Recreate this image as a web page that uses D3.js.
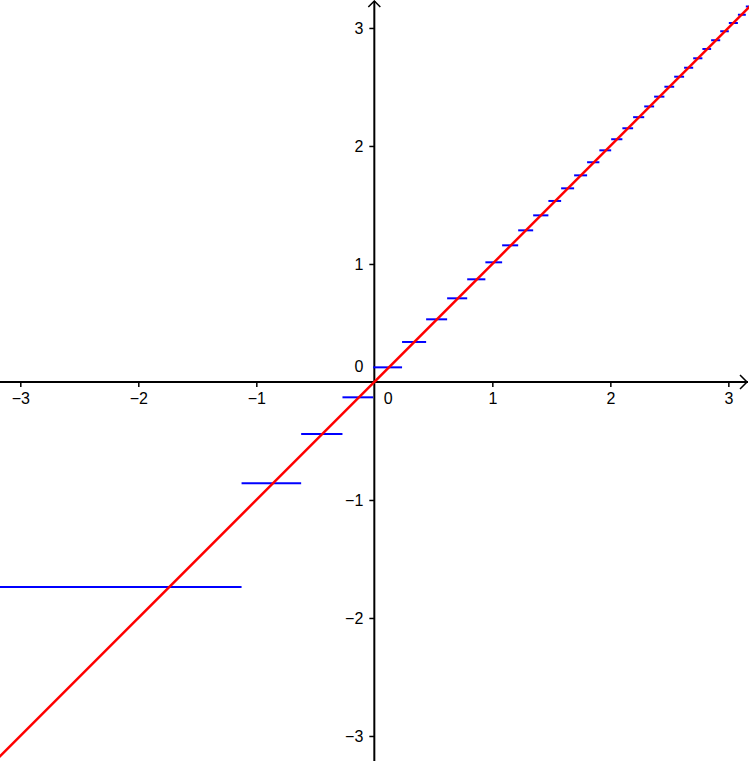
<!DOCTYPE html>
<html lang="en">
<head>
    <meta charset="UTF-8">
    <title>Document</title>
    <style>
        body {
            margin: 0;
            background: #fff;
        }
        svg {
            display: block;
        }
        .tick text {
            font-family: "Liberation Sans", Arial, sans-serif;
            font-size: 16px;
            fill: #000;
        }
        .zero {
            font-family: "Liberation Sans", Arial, sans-serif;
            font-size: 16px;
        }
    </style>
</head>
<body>
<script src="https://d3js.org/d3.v7.min.js"></script>
<script>
    let width = 749
    let height = 761

    // tick labels
    let xTicks = [-3, -2, -1, 1, 2, 3]
    let yTicks = [-3, -2, -1, 1, 2, 3]

    // red line y = x, sampled at its two ends
    let lineX = [-3.3, 3.3]
    let lineY = [-3.3, 3.3]

    // blue steps: step i runs from stepBreaks[i] to stepBreaks[i+1] at height stepLevels[i]
    let stepBreaks = [-3.3, -1.125, -0.62, -0.27, -0.01,
        0.235, 0.439, 0.617, 0.787, 0.941, 1.083, 1.219, 1.346, 1.475, 1.583,
        1.693, 1.803, 1.907, 2.007, 2.102, 2.193, 2.287, 2.371, 2.458, 2.541,
        2.625, 2.702, 2.780, 2.854, 2.931, 3.004, 3.081, 3.148, 3.3]
    let stepLevels = [-1.738, -0.859, -0.441, -0.130,
        0.124, 0.339, 0.531, 0.709, 0.870, 1.014, 1.158, 1.285, 1.412, 1.534,
        1.641, 1.751, 1.862, 1.963, 2.057, 2.150, 2.244, 2.335, 2.418, 2.502,
        2.587, 2.663, 2.743, 2.822, 2.896, 2.972, 3.042, 3.112, 3.182]

    let x = d3.scaleLinear().domain([-3.172, 3.175]).range([0, width])
    let y = d3.scaleLinear().domain([-3.212, 3.237]).range([height, 0])
    let fmt = d3.format("d")

    var svg = d3.select("body").append("svg")
        .attr("width", width)
        .attr("height", height)

    // axes
    let xAxis = svg.append("g")
        .attr("transform", "translate(0," + y(0) + ")")
        .call(d3.axisBottom(x).tickValues(xTicks).tickFormat(fmt).tickSize(5).tickPadding(6))
    xAxis.select(".domain").remove()
    xAxis.selectAll(".tick line").attr("stroke", "#000").attr("stroke-width", 1.5)

    let yAxis = svg.append("g")
        .attr("transform", "translate(" + x(0) + ",0)")
        .call(d3.axisLeft(y).tickValues(yTicks).tickFormat(fmt).tickSize(5).tickPadding(6))
    yAxis.select(".domain").remove()
    yAxis.selectAll(".tick line").attr("stroke", "#000").attr("stroke-width", 1.5)

    svg.append("line")
        .attr("x1", 0).attr("x2", width - 1)
        .attr("y1", y(0)).attr("y2", y(0))
        .attr("stroke", "#000").attr("stroke-width", 2)
    svg.append("line")
        .attr("x1", x(0)).attr("x2", x(0))
        .attr("y1", 1).attr("y2", height)
        .attr("stroke", "#000").attr("stroke-width", 2)

    // arrow heads
    svg.append("path")
        .attr("d", "M" + (width - 9) + "," + (y(0) - 7) + "L" + (width - 2) + "," + y(0) + "L" + (width - 9) + "," + (y(0) + 7))
        .attr("fill", "none").attr("stroke", "#000").attr("stroke-width", 1.5)
    svg.append("path")
        .attr("d", "M" + (x(0) - 6) + ",7L" + x(0) + ",1L" + (x(0) + 6) + ",7")
        .attr("fill", "none").attr("stroke", "#000").attr("stroke-width", 1.5)

    // origin labels
    svg.append("text")
        .attr("class", "zero")
        .attr("x", x(0) + 14).attr("y", y(0) + 22)
        .attr("text-anchor", "middle")
        .text("0")
    svg.append("text")
        .attr("class", "zero")
        .attr("x", x(0) - 11).attr("y", y(0) - 10)
        .attr("text-anchor", "end")
        .text("0")

    // blue steps
    svg.append("g").selectAll("line")
        .data(stepLevels)
        .enter()
        .append("line")
        .attr("x1", (d, i) => x(stepBreaks[i]))
        .attr("x2", (d, i) => x(stepBreaks[i + 1]))
        .attr("y1", d => y(d))
        .attr("y2", d => y(d))
        .attr("stroke", "#0000ff")
        .attr("stroke-width", 2)

    // red line
    let line = d3.line()
        .x(d => x(d[0]))
        .y(d => y(d[1]))
    svg.append("path")
        .datum(d3.zip(lineX, lineY))
        .attr("d", line)
        .attr("fill", "none")
        .attr("stroke", "#ff0000")
        .attr("stroke-width", 2.5)
</script>
</body>
</html>
